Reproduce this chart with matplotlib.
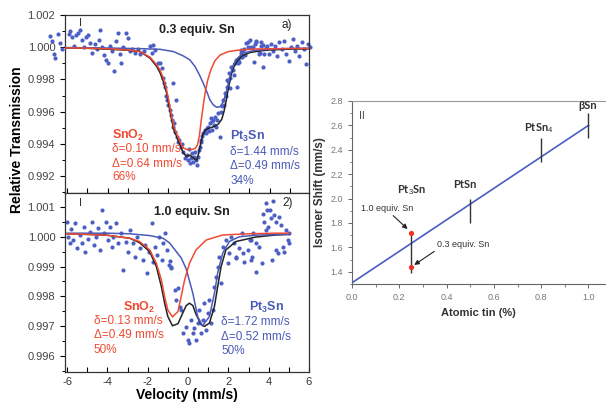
import matplotlib
matplotlib.use("Agg")
import matplotlib.pyplot as plt
import numpy as np
from matplotlib.ticker import MultipleLocator

plt.rcParams['font.family'] = ['Liberation Sans', 'DejaVu Sans']
plt.rcParams['mathtext.fontset'] = 'custom'
plt.rcParams['mathtext.rm'] = 'Liberation Sans'
plt.rcParams['mathtext.it'] = 'Liberation Sans:italic'
plt.rcParams['mathtext.bf'] = 'Liberation Sans:bold'

# ---------------- data (deviation from 1 in units of 1e-3) ----------------
# panel a) 0.3 equiv. Sn : measured points
top_v = [-6.82, -6.74, -6.66, -6.58, -6.46, -6.33, -6.23, -5.92, -5.84, -5.74, -5.64, -5.54, -5.44,
         -5.34, -5.24, -5.14, -5.05, -4.95, -4.85, -4.75, -4.62, -4.52, -4.42, -4.36, -4.26, -4.16,
         -4.06, -3.96, -3.86, -3.76, -3.70, -3.60, -3.50, -3.40, -3.34, -3.24, -3.11, -3.01, -2.91,
         -2.78, -2.64, -2.51, -2.38, -2.22, -1.90, -1.82, -1.74, -1.66, -1.50,
         -1.40, -1.33, -1.25, -1.20, -1.17, -1.09, -1.05, -1.00, -0.92, -0.88, -0.84, -0.76, -0.76,
         -0.70, -0.68, -0.63, -0.59, -0.50, -0.46, -0.35, -0.30, -0.26, -0.18, -0.10, -0.02, 0.02,
         0.07, 0.11, 0.15, 0.23, 0.27, 0.31, 0.35, 0.40, 0.48, 0.52, 0.56, 0.60, 0.64, 0.68, 0.72,
         0.81, 0.85, 0.89, 0.97, 1.00, 1.05, 1.10, 1.14, 1.18, 1.22, 1.26, 1.30, 1.38, 1.42, 1.47,
         1.55, 1.60, 1.63, 1.71, 1.75, 1.79, 1.84, 1.88, 1.91, 1.95, 2.00, 2.03, 2.07, 2.12, 2.20,
         2.25, 2.28, 2.33, 2.37, 2.42, 2.45, 2.50, 2.53, 2.58, 2.61, 2.65, 2.69, 2.75, 2.80, 2.86,
         2.93, 2.96, 3.02, 3.08, 3.18, 3.21, 3.26, 3.34, 3.35, 3.43, 3.46, 3.51, 3.57, 3.60, 3.67,
         3.70, 3.75, 3.84, 3.90, 3.95, 4.07, 4.16, 4.28, 4.39, 4.49, 4.61, 4.72, 4.82, 4.94, 5.05,
         5.15, 5.27, 5.38, 5.48, 5.60, 5.71, 5.81, 5.92, 6.01]
top_dev = [0.72, 0.41, -0.41, -0.66, 0.83, 0.25, -0.10, 0.83, 0.99, 0.66, 0.10, 0.75, 0.87,
           1.08, 0.46, 0.00, 0.62, 0.75, 0.29, -0.33, 0.21, -0.12, 0.46, 1.08, 0.00, -0.46,
           -0.79, -0.99, 0.08, -0.21, -1.49, 0.41, 0.87, -0.41, -0.95, 0.00, 0.91, 0.58, -0.21,
           -0.12, -0.33, -0.10, -0.41, -0.21, 0.07, -0.37, 0.15, -0.17, -1.00,
           -1.00, -1.30, -1.92, -2.20, -2.44, -3.06, -3.30, -3.58, -3.89, -4.20, -4.51, -4.93, -2.23,
           -4.70, -5.24, -3.27, -5.55, -5.90, -5.76, -6.17, -6.00, -6.48, -6.90, -6.69, -7.00, -6.30,
           -7.20, -6.90, -6.58, -7.10, -6.80, -6.48, -7.00, -7.31, -6.79, -6.40, -6.17, -5.90, -5.76,
           -5.50, -5.34, -5.14, -5.30, -5.03, -4.93, -5.20, -4.72, -4.40, -5.14, -4.60, -4.51, -4.80,
           -4.31, -4.93, -4.50, -4.10, -5.55, -4.00, -3.68, -3.27, -3.60, -2.86, -3.00, -2.44, -2.02,
           -2.10, -1.61, -1.90, -2.54, -1.20, -1.40, -1.70, -0.99, -0.80, -2.44, -1.00, -0.78, -0.90,
           -0.58, -0.20, -0.37, -0.60, -0.17, -0.10, -0.50, 0.25, 0.00, 0.31, 0.45, 0.00, 0.04, -0.93,
           0.20, 0.41, 0.35, -0.20, -0.41, -0.37, 0.10, 0.30, 0.14, -1.24, -0.40, -0.06, 0.10, -0.41,
           0.21, -0.21, 0.10, -0.52, 0.31, -0.10, 0.41, -0.41, -0.83, 0.00, 0.52, -0.21, 0.10, -0.52,
           0.31, -0.10, -1.04, 0.21, 0.00]

# panel a) fitted curves
top_red_v = [-6.1, -5.0, -4.0, -3.0, -2.40, -1.90, -1.57, -1.41, -1.24, -1.08, -0.95, -0.83, -0.72,
             -0.58, -0.42, -0.26, -0.09, 0.16, 0.32, 0.44, 0.54, 0.63, 0.73, 0.83, 0.95, 1.10, 1.31,
             1.56, 1.97, 2.54, 3.20, 4.03, 5.0, 5.95]
top_red_dev = [-0.04, -0.06, -0.10, -0.17, -0.27, -0.62, -1.10, -1.41, -1.93, -2.66, -3.49, -4.32,
               -4.94, -5.39, -5.87, -6.25, -6.35, -6.35, -6.29, -6.08, -5.46, -4.52, -3.59, -2.76,
               -2.03, -1.41, -0.83, -0.48, -0.27, -0.17, -0.12, -0.10, -0.08, -0.07]
top_blue_v = [-6.1, -4.0, -2.40, -1.41, -0.75, -0.26, 0.07, 0.32, 0.54, 0.73, 0.90, 1.06, 1.23,
              1.39, 1.56, 1.72, 1.85, 1.97, 2.08, 2.21, 2.41, 2.71, 3.20, 4.03, 5.0, 5.95]
top_blue_dev = [-0.02, -0.05, -0.09, -0.13, -0.27, -0.54, -0.79, -1.20, -1.72, -2.24, -2.76, -3.28,
                -3.59, -3.73, -3.69, -3.38, -2.86, -2.24, -1.62, -1.10, -0.69, -0.37, -0.21, -0.12,
                -0.08, -0.06]
top_black_v = [-6.1, -5.0, -4.0, -3.0, -2.40, -1.90, -1.57, -1.41, -1.24, -1.08, -0.95, -0.83, -0.72,
               -0.58, -0.42, -0.26, -0.09, 0.07, 0.21, 0.32, 0.40, 0.50, 0.60, 0.70, 0.82, 0.98,
               1.14, 1.31, 1.47, 1.64, 1.75, 1.85, 1.97, 2.08, 2.21, 2.38, 2.63, 3.04, 3.53, 4.03,
               5.0, 5.95]
top_black_dev = [-0.05, -0.07, -0.12, -0.19, -0.27, -0.68, -1.20, -1.58, -2.14, -2.86, -3.73, -4.52,
                 -5.15, -5.56, -6.08, -6.56, -6.80, -6.70, -6.85, -6.97, -7.01, -6.60, -5.98, -5.46,
                 -5.15, -5.04, -4.98, -4.90, -4.77, -4.48, -4.00, -3.38, -2.55, -1.83, -1.31,
                 -0.89, -0.54, -0.33, -0.23, -0.17, -0.12, -0.10]

# panel 2) 1.0 equiv. Sn : measured points
bot_v = [-6.00, -5.97, -5.87, -5.80, -5.70, -5.59, -5.51, -5.38, -5.26, -5.18, -5.10, -4.98, -4.88,
         -4.77, -4.68, -4.55, -4.44, -4.36, -4.27, -4.19, -4.06, -3.99, -3.89, -3.78, -3.70, -3.57,
         -3.45, -3.34, -3.20, -3.07, -2.96, -2.88, -2.74, -2.63, -2.51, -2.38, -2.25, -2.13, -2.05,
         -1.92, -1.81, -1.72, -1.62, -1.53, -1.43, -1.31, -1.23, -1.13, -1.03, -0.93, -0.90, -0.84,
         -0.84, -0.67, -0.58, -0.50, -0.42, -0.33, -0.26, -0.09, -0.01, 0.07, 0.15, 0.24, 0.32, 0.40,
         0.48, 0.56, 0.65, 0.73, 0.81, 0.89, 0.97, 1.06, 1.14, 1.22, 1.31, 1.39, 1.47, 1.55, 1.64,
         1.72, 1.88, 1.96, 2.05, 2.13, 2.29, 2.37, 2.39, 2.54, 2.70, 2.72, 2.78, 2.95, 3.05, 3.11,
         3.13, 3.19, 3.21, 3.36, 3.38, 3.52, 3.69, 3.70, 3.79, 3.85, 3.87, 3.93, 3.95, 4.07, 4.10,
         4.18, 4.23, 4.28, 4.35, 4.36, 4.44, 4.53, 4.61, 4.69, 4.77, 4.86, 4.94, 4.99, 5.02]
bot_dev = [0.50, 0.00, -0.22, 0.25, -0.11, 0.45, -0.39, 0.06, -0.22, 0.34, -0.50, -0.06, 0.17,
           0.50, -0.28, 0.00, 0.28, -0.45, 0.89, 0.11, 0.50, -0.11, 0.34, -0.34, 0.00, 0.45,
           -0.22, 0.11, -1.12, -0.17, -0.50, 0.22, -0.22, -0.67, 0.00, -0.39, -0.78, -0.28, -1.23,
           -0.50, 0.45, -0.84, -0.34, -0.61, 0.00, -0.78, -0.22, 0.11, -0.45, -0.95, -0.83, -1.01,
           -1.06, -1.79, -2.12, -1.73, -2.35, -2.46, -3.24, -3.02, -3.46, -3.57, -2.79, -3.24, -3.07,
           -3.46, -2.90, -2.46, -3.24, -2.79, -2.23, -3.13, -2.57, -2.12, -2.90, -2.46, -1.67, -1.34,
           -1.00, -0.67, -1.56, -0.33, -0.11, -0.89, -0.55, 0.00, -0.22, -0.72, -0.67, -0.39, 0.12,
           -0.56, -0.84, -0.44, -0.11, -0.11, -0.78, -0.67, 0.11, -1.17, -0.22, -0.33, -0.89, 0.78,
           0.50, 0.23, 1.12, 0.90, 0.34, 0.89, 0.62, -0.78, 1.20, 0.73, -0.44, 0.50, -0.56, 0.67,
           0.39, -0.34, -0.50, 0.22, -0.11, 0.11, -0.22]

# panel 2) fitted curves
bot_red_v = [-6.0, -5.0, -4.0, -2.89, -2.40, -1.90, -1.57, -1.32, -1.16, -1.00, -0.77, -0.50,
             -0.34, -0.17, 0.07, 0.40, 0.90, 1.72, 3.0, 4.35, 5.0]
bot_red_dev = [0.10, 0.08, 0.05, -0.05, -0.16, -0.44, -0.89, -1.45, -2.01, -2.46, -2.69, -2.51,
               -2.01, -1.45, -0.89, -0.44, -0.11, 0.06, 0.10, 0.12, 0.12]
bot_blue_v = [-6.0, -4.0, -2.89, -1.90, -1.24, -0.91, -0.58, -0.33, -0.09, 0.24, 0.48, 0.72, 1.06,
              1.31, 1.47, 1.72, 2.05, 2.54, 3.50, 5.0]
bot_blue_dev = [0.12, 0.12, 0.10, 0.04, -0.05, -0.21, -0.50, -0.72, -1.08, -1.90, -2.68, -2.99,
                -2.68, -1.90, -1.22, -0.55, -0.16, 0.00, 0.06, 0.08]
bot_black_v = [-6.0, -5.0, -4.0, -2.89, -2.40, -1.90, -1.57, -1.32, -1.16, -1.00, -0.77, -0.50,
               -0.26, -0.09, 0.07, 0.24, 0.40, 0.65, 0.81, 1.06, 1.31, 1.47, 1.64, 1.88, 2.37,
               3.36, 4.35, 5.0]
bot_black_dev = [0.10, 0.08, 0.05, -0.05, -0.20, -0.50, -1.00, -1.68, -2.23, -2.68, -2.99, -2.92,
                 -2.56, -2.31, -2.23, -2.31, -2.61, -2.95, -3.01, -2.90, -2.34, -1.68, -1.00,
                 -0.44, -0.16, -0.01, 0.06, 0.08]

# panel II: isomer shift vs atomic tin
fit_tin = [0.0, 1.0]
fit_shift = [1.31, 2.60]
phase_names = ['Pt$_3$Sn', 'PtSn', 'PtSn$_4$', 'βSn']
phase_tin = [0.25, 0.5, 0.8, 1.0]
phase_lo = [1.39, 1.80, 2.30, 2.50]
phase_hi = [1.71, 2.00, 2.50, 2.70]
sample_tin = [0.25, 0.25]
sample_shift = [1.72, 1.44]

RED = '#f04a32'
BLUE = '#4a5ab8'
PTS = '#4c5fc4'


def T(dev):
    return 1 + np.array(dev) * 1e-3


fig = plt.figure(figsize=(6.06, 4.05), dpi=100)
ax1 = fig.add_axes([0.1073, 0.5235, 0.4026, 0.4395])
ax2 = fig.add_axes([0.1073, 0.0815, 0.4026, 0.442])
ax3 = fig.add_axes([0.5809, 0.2988, 0.4175, 0.4519])

# ---- panel a)
ax1.scatter(top_v, T(top_dev), s=9, color=PTS, lw=0, clip_on=False, zorder=2)
ax1.plot(top_black_v, T(top_black_dev), color='#222222', lw=1.1, zorder=3)
ax1.plot(top_blue_v, T(top_blue_dev), color=BLUE, lw=1.1, zorder=4)
ax1.plot(top_red_v, T(top_red_dev), color=RED, lw=1.1, zorder=4)
ax1.set_ylim(0.99095, 1.002)
ax1.yaxis.set_major_locator(MultipleLocator(0.002))
ax1.yaxis.set_minor_locator(MultipleLocator(0.001))
ax1.set_yticklabels(['%.3f' % t for t in ax1.get_yticks()])

ax1.text(-5.34, 1.00149, 'I', fontsize=8, ha='center', va='center', color='#333333')
ax1.text(0.4, 1.00108, '0.3 equiv. Sn', fontsize=9, fontweight='bold', ha='center', va='center',
         color='#222222')
ax1.text(4.86, 1.00135, 'a)', fontsize=8.5, ha='center', va='center', color='#222222')
ax1.text(-3.78, T(-5.45), 'SnO$_\\mathbf{2}$', fontsize=9, fontweight='bold', color=RED, va='center')
for txt, d in [('δ=0.10 mm/s', -6.31), ('Δ=0.64 mm/s', -7.25), ('66%', -8.07)]:
    ax1.text(-3.78, T(d), txt, fontsize=8.5, color=RED, va='center')
ax1.text(2.06, T(-5.55), 'Pt$_\\mathbf{3}$Sn', fontsize=9, fontweight='bold', color=BLUE, va='center')
for txt, d in [('δ=1.44 mm/s', -6.52), ('Δ=0.49 mm/s', -7.39), ('34%', -8.28)]:
    ax1.text(2.06, T(d), txt, fontsize=8.5, color=BLUE, va='center')

# ---- panel 2)
ax2.scatter(bot_v, T(bot_dev), s=9, color=PTS, lw=0, zorder=2)
ax2.plot(bot_black_v, T(bot_black_dev), color='#222222', lw=1.1, zorder=3)
ax2.plot(bot_blue_v, T(bot_blue_dev), color=BLUE, lw=1.1, zorder=4)
ax2.plot(bot_red_v, T(bot_red_dev), color=RED, lw=1.1, zorder=4)
ax2.set_ylim(0.99546, 1.00147)
ax2.yaxis.set_major_locator(MultipleLocator(0.001))
ax2.yaxis.set_minor_locator(MultipleLocator(0.0005))
ax2.set_yticklabels(['%.3f' % t for t in ax2.get_yticks()])

ax2.text(-5.34, T(1.12), 'I', fontsize=8, ha='center', va='center', color='#333333')
ax2.text(0.17, T(0.84), '1.0 equiv. Sn', fontsize=9, fontweight='bold', ha='center', va='center',
         color='#222222')
ax2.text(4.94, T(1.12), '2)', fontsize=8.5, ha='center', va='center', color='#222222')
ax2.text(-2.41, T(-2.36), 'SnO$_\\mathbf{2}$', fontsize=9, fontweight='bold', color=RED,
         ha='center', va='center')
for txt, d in [('δ=0.13 mm/s', -2.82), ('Δ=0.49 mm/s', -3.31), ('50%', -3.79)]:
    ax2.text(-4.68, T(d), txt, fontsize=8.5, color=RED, va='center')
ax2.text(3.90, T(-2.36), 'Pt$_\\mathbf{3}$Sn', fontsize=9, fontweight='bold', color=BLUE,
         ha='center', va='center')
for txt, d in [('δ=1.72 mm/s', -2.86), ('Δ=0.52 mm/s', -3.35), ('50%', -3.85)]:
    ax2.text(1.65, T(d), txt, fontsize=8.5, color=BLUE, va='center')

for ax in (ax1, ax2):
    ax.set_xlim(-6.1, 5.95)
    ax.xaxis.set_major_locator(MultipleLocator(2))
    ax.xaxis.set_minor_locator(MultipleLocator(1))
    ax.tick_params(axis='x', which='both', direction='in', length=3.5, width=0.8, labelsize=8,
                   labelcolor='#333333')
    ax.tick_params(axis='y', which='major', direction='out', length=3.5, width=0.8, labelsize=8,
                   labelcolor='#444444')
    ax.tick_params(axis='y', which='minor', direction='out', length=2, width=0.7)
    for s in ax.spines.values():
        s.set_linewidth(0.9)
        s.set_color('#333333')
ax1.tick_params(axis='x', labelbottom=False)
ax2.set_xticks([-6, -4, -2, 0, 2, 4, 6])
ax2.set_xticklabels(['-6', '-4', '-2', '0', '2', '4', '6'])
ax2.set_xlabel('Velocity (mm/s)', fontsize=10, fontweight='bold', labelpad=1)
fig.text(0.028, 1 - 140 / 405, 'Relative Transmission', rotation=90, fontsize=10,
         fontweight='bold', ha='center', va='center')

# ---- panel II
ax3.plot(fit_tin, fit_shift, color='#4a5cc0', lw=1.2, zorder=2)
ax3.vlines(phase_tin, phase_lo, phase_hi, color='#333333', lw=1.0, zorder=3)
ax3.scatter(sample_tin, sample_shift, s=14, color='#f03020', zorder=4, lw=0)
lab_pos = [(0.254, 2.01), (0.475, 2.07), (0.79, 2.52), (0.997, 2.72)]
for name, (lx, ly) in zip(phase_names, lab_pos):
    ax3.text(lx, ly, name, fontsize=8, fontweight='bold', ha='center', va='bottom',
             family=['Lato', 'Open Sans', 'DejaVu Sans'], color='#333333')
ax3.text(0.04, 2.68, 'II', fontsize=7.5, ha='center', va='center', color='#444444')
ax3.annotate('1.0 equiv. Sn', xy=(0.235, 1.75), xytext=(0.04, 1.92), fontsize=6.5,
             color='#333333', va='center',
             arrowprops=dict(arrowstyle='-|>', color='#222222', lw=0.8, mutation_scale=7,
                             shrinkA=0, shrinkB=0, relpos=(0.55, 0)))
ax3.annotate('0.3 equiv. Sn', xy=(0.263, 1.456), xytext=(0.36, 1.62), fontsize=6.5,
             color='#333333', va='center',
             arrowprops=dict(arrowstyle='-|>', color='#222222', lw=0.8, mutation_scale=7,
                             shrinkA=0, shrinkB=0, relpos=(0, 0)))
ax3.set_xlim(0, 1.07)
ax3.set_ylim(1.30, 2.8)
ax3.xaxis.set_major_locator(MultipleLocator(0.2))
ax3.xaxis.set_minor_locator(MultipleLocator(0.1))
ax3.yaxis.set_major_locator(MultipleLocator(0.2))
ax3.yaxis.set_minor_locator(MultipleLocator(0.1))
ax3.set_xticks([0, 0.2, 0.4, 0.6, 0.8, 1.0])
ax3.set_xticklabels(['0.0', '0.2', '0.4', '0.6', '0.8', '1.0'])
ax3.set_yticks([1.4, 1.6, 1.8, 2.0, 2.2, 2.4, 2.6, 2.8])
ax3.set_yticklabels(['1.4', '1.6', '1.8', '2.0', '2.2', '2.4', '2.6', '2.8'])
ax3.tick_params(which='major', direction='out', length=3, width=0.7, color='#666666',
                labelsize=6.5, labelcolor='#777777')
ax3.tick_params(which='minor', direction='out', length=1.8, width=0.6, color='#666666')
ax3.spines['right'].set_visible(False)
ax3.spines['top'].set_color('#999999')
ax3.spines['left'].set_color('#666666')
ax3.spines['bottom'].set_color('#666666')
for s in ax3.spines.values():
    s.set_linewidth(0.8)
ax3.set_xlabel('Atomic tin (%)', fontsize=8, fontweight='bold', color='#333333', labelpad=4)
ax3.set_ylabel('Isomer Shift (mm/s)', fontsize=8.5, fontweight='bold', color='#333333', labelpad=3)

fig.savefig('out.png', dpi=100)
